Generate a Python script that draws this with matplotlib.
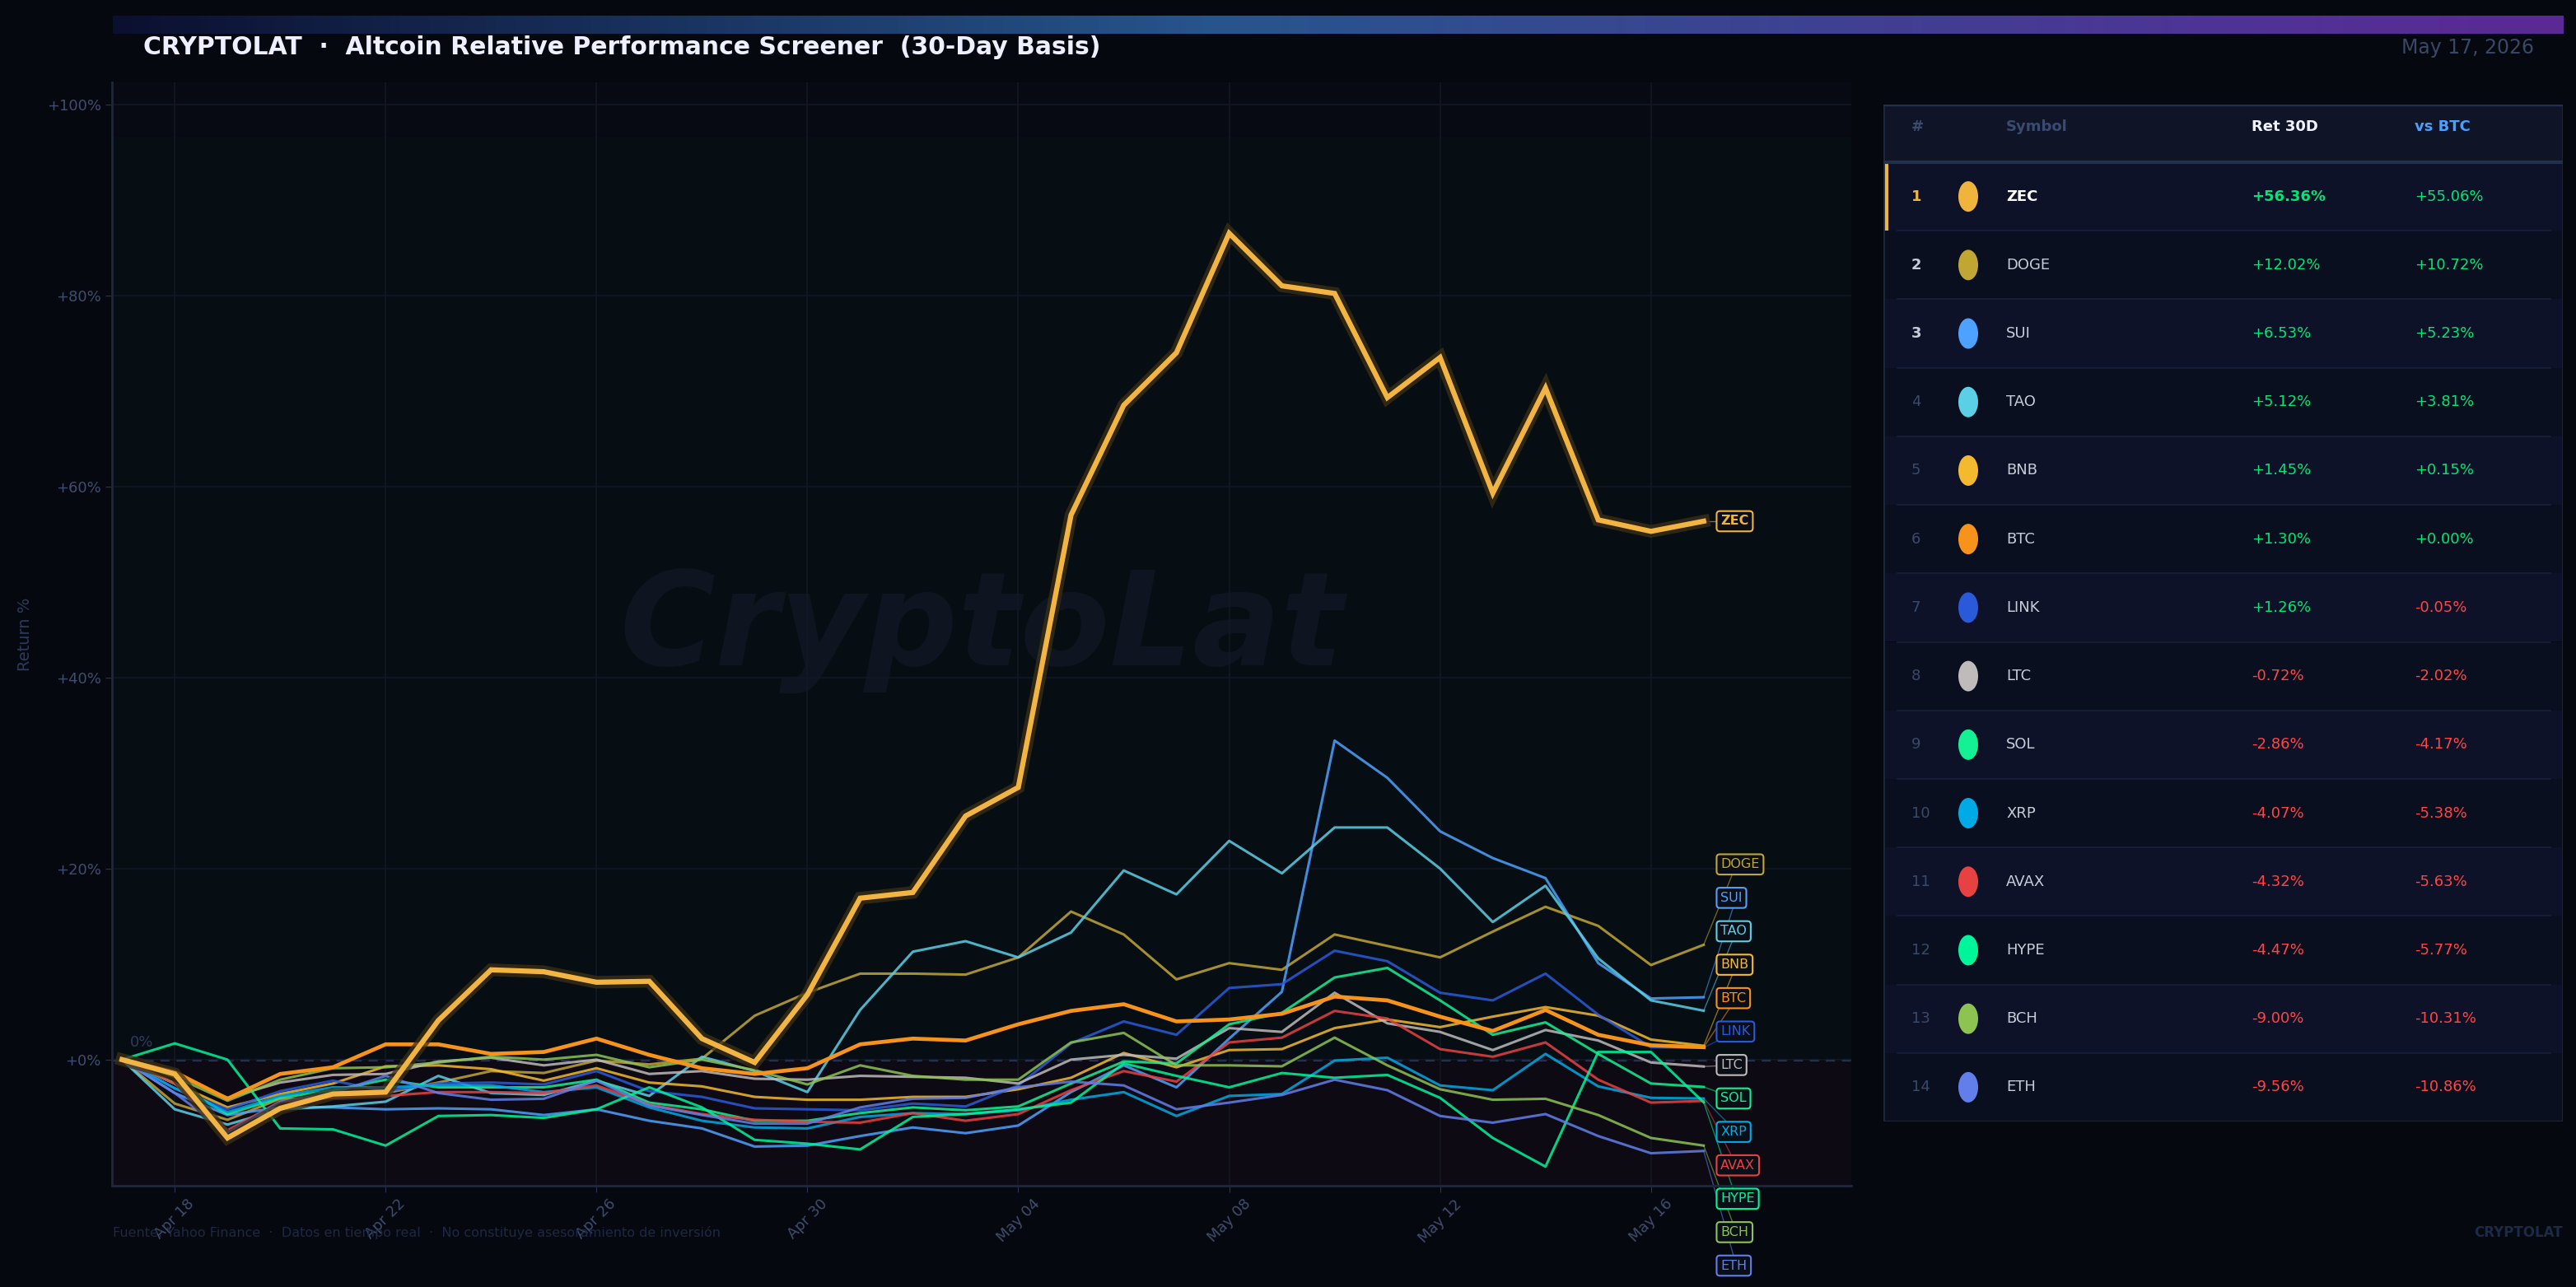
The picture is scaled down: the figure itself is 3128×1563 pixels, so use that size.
import numpy as np
import pandas as pd
import matplotlib
matplotlib.use("Agg")
import matplotlib.pyplot as plt
import matplotlib.dates as mdates
import matplotlib.patheffects as pe
from matplotlib.colors import LinearSegmentedColormap
from matplotlib.patches import Ellipse, Rectangle

# ---- data (cumulative return %, Apr 17 -> May 17) ----
dates = pd.date_range("2026-04-17", periods=31, freq="D")

zec = [0, -1.5, -8.2, -5.1, -3.6, -3.4, 4.1, 9.4, 9.2, 8.1, 8.2, 2.2, -0.3, 6.8, 16.9, 17.5,
       25.5, 28.5, 57.0, 68.5, 74.0, 86.5, 81.0, 80.2, 69.3, 73.5, 59.3, 70.3, 56.5, 55.3, 56.36]
doge = [0, -4.6, -6.3, -4.1, -4.0, -3.5, -2.4, -1.2, -1.4, -0.1, -0.5, 0.1, 4.6, 7.0, 9.0, 9.0,
        8.9, 10.7, 15.5, 13.1, 8.4, 10.1, 9.4, 13.1, 11.9, 10.7, 13.4, 16.0, 14.0, 9.9, 12.02]
sui = [0, -3.5, -5.8, -5.0, -5.0, -5.2, -5.1, -5.2, -5.8, -5.2, -6.4, -7.2, -9.1, -9.0, -8.0, -7.1,
       -7.7, -6.9, -3.4, -0.6, -2.9, 2.2, 7.1, 33.4, 29.5, 23.9, 21.1, 19.0, 10.1, 6.4, 6.53]
tao = [0, -5.2, -6.8, -5.2, -4.9, -4.4, -1.7, -3.5, -3.7, -2.2, -3.8, 0.3, -1.2, -3.4, 5.2, 11.3,
       12.4, 10.7, 13.3, 19.8, 17.3, 22.9, 19.5, 24.3, 24.3, 20.0, 14.4, 18.2, 10.6, 6.2, 5.12]
bnb = [0, -2.5, -5.0, -3.6, -2.5, -0.7, -0.6, -1.0, -2.2, -0.9, -2.4, -2.8, -3.9, -4.2, -4.2, -3.9,
       -3.9, -3.1, -1.9, 0.7, -0.8, 1.0, 1.1, 3.3, 4.2, 3.4, 4.5, 5.5, 4.6, 2.1, 1.45]
btc = [0, -1.3, -4.1, -1.5, -0.8, 1.6, 1.6, 0.6, 0.8, 2.2, 0.5, -0.9, -1.5, -0.9, 1.6, 2.2,
       2.0, 3.7, 5.1, 5.8, 4.0, 4.2, 4.8, 6.6, 6.2, 4.5, 3.0, 5.2, 2.6, 1.5, 1.30]
link = [0, -3.0, -5.2, -3.3, -2.2, -3.3, -2.5, -2.4, -2.6, -1.2, -3.3, -3.9, -5.1, -5.2, -5.3, -4.6,
        -4.9, -2.7, 1.7, 4.0, 2.6, 7.5, 7.9, 11.4, 10.3, 7.0, 6.2, 9.0, 4.7, 1.3, 1.26]
ltc = [0, -1.5, -4.0, -2.4, -1.6, -1.5, -0.2, 0.2, -0.6, 0.0, -1.5, -1.2, -2.0, -2.1, -1.7, -1.8,
       -1.9, -2.5, 0.0, 0.5, 0.1, 3.3, 2.9, 7.0, 3.8, 2.9, 1.0, 3.1, 2.0, -0.3, -0.72]
sol = [0, -2.5, -5.7, -4.0, -3.2, -2.1, -2.9, -2.9, -2.9, -2.1, -4.5, -5.2, -6.4, -6.4, -5.6, -5.0,
       -5.3, -4.9, -2.5, -0.2, -0.4, 3.7, 4.9, 8.6, 9.6, 6.2, 2.6, 3.9, 0.6, -2.5, -2.86]
xrp = [0, -3.0, -5.5, -3.8, -2.9, -2.9, -2.7, -2.7, -3.4, -2.9, -5.0, -6.4, -7.1, -7.2, -6.0, -5.6,
       -5.7, -5.3, -4.2, -3.4, -5.9, -3.8, -3.6, -0.1, 0.2, -2.7, -3.2, 0.6, -2.8, -4.0, -4.07]
avax = [0, -2.5, -7.4, -4.4, -4.0, -3.8, -3.4, -3.4, -3.5, -2.7, -4.7, -5.7, -6.3, -6.5, -6.6, -5.6,
        -6.4, -5.7, -3.2, -1.2, -2.3, 1.8, 2.3, 5.1, 4.3, 1.1, 0.3, 1.8, -2.1, -4.5, -4.32]
hype = [0, 1.7, 0.0, -7.2, -7.3, -9.0, -5.9, -5.8, -6.1, -5.2, -2.9, -5.0, -8.4, -8.8, -9.4, -6.0,
        -5.7, -5.2, -4.5, -0.4, -1.7, -2.9, -1.4, -1.9, -1.6, -4.0, -8.2, -11.2, 0.8, 0.8, -4.47]
bch = [0, -1.8, -4.3, -2.1, -0.9, -0.8, -0.3, 0.3, 0.0, 0.5, -0.8, 0.0, -1.1, -2.6, -0.6, -1.7,
       -2.1, -2.1, 1.8, 2.8, -0.6, -0.6, -0.7, 2.3, -0.6, -3.1, -4.2, -4.1, -5.8, -8.2, -9.00]
eth = [0, -3.5, -7.6, -4.4, -3.5, -1.7, -3.5, -4.2, -4.1, -2.2, -4.8, -5.8, -6.7, -6.7, -5.0, -4.1,
       -4.0, -2.9, -2.3, -2.7, -5.2, -4.5, -3.7, -2.1, -3.2, -5.9, -6.6, -5.7, -8.0, -9.8, -9.56]

# ranking table
symbols = ["ZEC", "DOGE", "SUI", "TAO", "BNB", "BTC", "LINK", "LTC", "SOL", "XRP", "AVAX", "HYPE", "BCH", "ETH"]
ret_30d = [56.36, 12.02, 6.53, 5.12, 1.45, 1.30, 1.26, -0.72, -2.86, -4.07, -4.32, -4.47, -9.00, -9.56]
vs_btc = [55.06, 10.72, 5.23, 3.81, 0.15, 0.00, -0.05, -2.02, -4.17, -5.38, -5.63, -5.77, -10.31, -10.86]
colors = ["#f0b43c", "#c2a633", "#4da2ff", "#5bcfe6", "#f3ba2f", "#f7931a", "#2a5ada",
          "#bfbbbb", "#14f195", "#00aae4", "#e84142", "#00f59b", "#8dc351", "#627eea"]
series = [zec, doge, sui, tao, bnb, btc, link, ltc, sol, xrp, avax, hype, bch, eth]

BG = "#05080f"
plt.rcParams["font.family"] = ["DejaVu Sans"]

fig = plt.figure(figsize=(31.28, 15.63), dpi=100, facecolor=BG)
W, H = 3128, 1563


def fx(px):
    return px / W


def fy(py):
    return 1 - py / H


# ---- header gradient bar ----
bar_ax = fig.add_axes([fx(137), fy(41), fx(3113 - 137), (41 - 19) / H])
grad = LinearSegmentedColormap.from_list(
    "hdr", [(0, "#0b1030"), (0.45, "#27558d"), (0.85, "#4d3595"), (1, "#5b2994")])
bar_ax.imshow(np.linspace(0, 1, 512)[None, :], aspect="auto", cmap=grad)
bar_ax.axis("off")

fig.text(fx(174), fy(58), "CRYPTOLAT  \u00b7  Altcoin Relative Performance Screener  (30-Day Basis)",
         color="#eef0ff", fontsize=21.5, fontweight="bold", va="center", ha="left")
fig.text(fx(3077), fy(58), "May 17, 2026", color="#3a4866", fontsize=17, va="center", ha="right")

# ---- main chart ----
ax = fig.add_axes([fx(136), fy(1440), fx(2248 - 136), (1440 - 100) / H])
ax.set_facecolor("#070a12")
x = mdates.date2num(dates)
ymax_band = max(zec) + 10
ax.set_xlim(x[0] - 0.19, x[0] + 32.8)
ax.set_ylim(-13.2, 102.3)

ax.axhspan(0, ymax_band, color="#00c853", alpha=0.025, lw=0, zorder=0)
ax.axhspan(-13.2, 0, color="#ff1744", alpha=0.03, lw=0, zorder=0)

ax.text(x[0] + 16.3, 45, "CryptoLat", fontsize=114, fontweight="bold", style="italic",
        color="#0f1520", ha="center", va="center", zorder=0.5)

ax.set_yticks([0, 20, 40, 60, 80, 100])
ax.set_yticklabels([f"+{v}%" for v in [0, 20, 40, 60, 80, 100]])
ax.set_xticks(x[1::4])
ax.set_xticklabels([d.strftime("%b %d") for d in dates[1::4]], rotation=45, ha="center")
ax.grid(True, color="#121826", lw=1.2, zorder=0.6)
ax.tick_params(colors="#2a3450", labelcolor="#414d70", labelsize=13, length=6)
for s in ["top", "right"]:
    ax.spines[s].set_visible(False)
for s in ["left", "bottom"]:
    ax.spines[s].set_color("#1e2640")
    ax.spines[s].set_linewidth(2)
ax.set_ylabel("Return %", color="#2e3a5a", fontsize=14, labelpad=12)

ax.axhline(0, ls=(0, (4, 3)), color="#3a4868", lw=2, zorder=1)
ax.text(x[0] + 0.15, 1.0, "0%", color="#2e3a5c", fontsize=13, ha="left", va="bottom")

for sym, col, vals in zip(symbols, colors, series):
    if sym == "ZEC":
        ax.plot(x, vals, color="#f2b544", lw=4.5, zorder=6, solid_joinstyle="miter",
                path_effects=[pe.Stroke(linewidth=11, foreground="#3d3015", alpha=0.75), pe.Normal()])
    elif sym == "BTC":
        ax.plot(x, vals, color=col, lw=3.4, zorder=5)
    else:
        ax.plot(x, vals, color=col, lw=2.2, alpha=0.85, zorder=3)

# ---- end labels with simple cluster declutter ----
gap = 3.5
order = sorted(range(len(symbols)), key=lambda i: -ret_30d[i])
clusters = [[i] for i in order]
merged = True
while merged:
    merged = False
    cents = []
    for c in clusters:
        m = np.mean([ret_30d[i] for i in c])
        cents.append((m + (len(c) - 1) * gap / 2, m - (len(c) - 1) * gap / 2))
    for k in range(len(clusters) - 1):
        if cents[k][1] - cents[k + 1][0] < gap:
            clusters[k] = clusters[k] + clusters[k + 1]
            del clusters[k + 1]
            merged = True
            break
label_y = {}
for c in clusters:
    m = np.mean([ret_30d[i] for i in c])
    top = m + (len(c) - 1) * gap / 2
    for j, i in enumerate(c):
        label_y[i] = top - j * gap

lx = x[-1] + 0.32
for i, sym in enumerate(symbols):
    col = colors[i]
    ax.plot([x[-1], lx + 0.3], [ret_30d[i], label_y[i]], color=col, lw=1, alpha=0.55,
            zorder=2, clip_on=False)
    ax.text(lx, label_y[i], sym, color=col, fontsize=11.5, ha="left", va="center",
            fontweight="bold" if sym == "ZEC" else "normal", zorder=10, clip_on=False,
            bbox=dict(boxstyle="round,pad=0.3,rounding_size=0.25", fc="#0a0e17", ec=col, lw=1.5))

# ---- footer ----
fig.text(fx(137), fy(1497), "Fuente: Yahoo Finance  \u00b7  Datos en tiempo real  \u00b7  "
         "No constituye asesoramiento de inversi\u00f3n", color="#1e2844", fontsize=11.5,
         ha="left", va="center")
fig.text(fx(3112), fy(1497), "CRYPTOLAT", color="#1c2a44", fontsize=12, fontweight="bold",
         ha="right", va="center")

# ---- ranking table (pixel coordinates) ----
L, R, T, B = 2287, 3112, 127, 1362
tab = fig.add_axes([fx(L), fy(B), fx(R - L), (B - T) / H])
tab.set_xlim(L, R)
tab.set_ylim(B, T)
tab.axis("off")
tab.add_patch(Rectangle((L, T), R - L, 70, fc="#0f1526", ec="none"))
row_h = (B - 197) / len(symbols)
for i, sym in enumerate(symbols):
    top = 197 + i * row_h
    yc = top + row_h / 2
    tab.add_patch(Rectangle((L, top), R - L, row_h, fc="#0d1228" if i % 2 == 0 else "#0a0f1f", ec="none"))
    if i > 0:
        tab.plot([2304, 3097], [top, top], color="#18203a", lw=1.2)
    if i == 0:
        tab.add_patch(Rectangle((L, top + 2), 6, row_h - 2, fc="#f0b440", ec="none"))
    rank_col = "#f0b440" if i == 0 else ("#c8ccd8" if i < 3 else "#3a4a6a")
    tab.text(2321, yc, str(i + 1), color=rank_col, fontsize=13, ha="left", va="center",
             fontweight="bold" if i < 3 else "normal")
    tab.add_patch(Ellipse((2390, yc), 24, 37, fc=colors[i], ec="none"))
    tab.text(2436, yc, sym, color="#ffffff" if i == 0 else "#c8ccd8", fontsize=13, ha="left",
             va="center", fontweight="bold" if i == 0 else "normal")
    for cx, v in [(2734, ret_30d[i]), (2932, vs_btc[i])]:
        tab.text(cx, yc, f"{v:+.2f}%", color="#00e676" if v >= 0 else "#ff4545", fontsize=13,
                 ha="left", va="center", fontweight="bold" if (i == 0 and cx == 2734) else "normal")
tab.plot([L, R], [197, 197], color="#22304e", lw=3)
tab.add_patch(Rectangle((L, T), R - L, B - T, fc="none", ec="#1c2740", lw=2))
tab.plot([L, R], [T, T], color="#22304e", lw=2.5)
tab.text(2321, 154, "#", color="#3a4a70", fontsize=13, fontweight="bold", ha="left", va="center")
tab.text(2436, 154, "Symbol", color="#3a4a70", fontsize=13, fontweight="bold", ha="left", va="center")
tab.text(2734, 154, "Ret 30D", color="#f0f2ff", fontsize=13, fontweight="bold", ha="left", va="center")
tab.text(2932, 154, "vs BTC", color="#4d9fff", fontsize=13, fontweight="bold", ha="left", va="center")

fig.savefig("out.png", dpi=100, facecolor=BG)
